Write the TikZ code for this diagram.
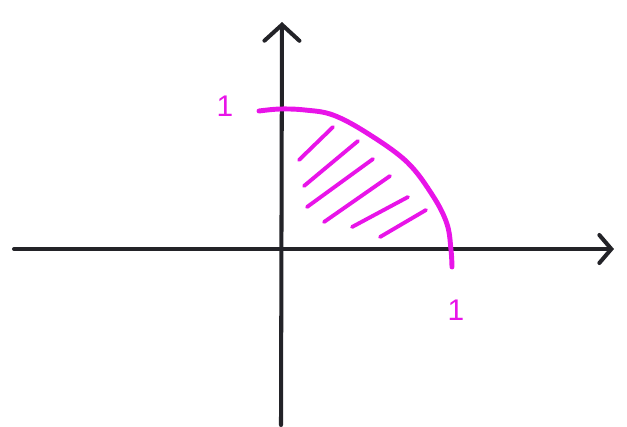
\documentclass[tikz,border=0pt]{standalone}
\usepackage{fontspec}
\setsansfont{Liberation Sans}
\usetikzlibrary{arrows.meta}
\definecolor{axisgray}{RGB}{35,35,40}
\definecolor{pen}{RGB}{232,20,232}
\tikzset{
  axis/.style={draw=axisgray, line width=2.3pt, line cap=round},
  curve/.style={draw=pen, line width=2.8pt, line cap=round, line join=round},
  hatch/.style={draw=pen, line width=2.2pt, line cap=round},
  tick label/.style={text=pen, font=\sffamily\fontsize{17}{17}\selectfont, inner sep=0pt},
}
\begin{document}
\begin{tikzpicture}[x=0.02cm, y=-0.02cm]
  \useasboundingbox (0,0) rectangle (627,427);
  % axes
  \coordinate (xfrom) at (14,249);
  \coordinate (xto) at (614,249);
  \coordinate (yfrom) at (281,425);
  \coordinate (yto) at (282,22);
  \draw[axis, -{Straight Barb[length=2.4mm, width=5.6mm, line cap=round]}] (xfrom) -- (xto);
  \draw[axis, -{Straight Barb[length=3.2mm, width=7mm, line cap=round]}] (yfrom) -- (yto);

  % quarter circle
  \draw[curve] plot[smooth, tension=0.6] coordinates {
    (259,111) (280,109) (305,110) (333,115) (367,133) (407,162)
    (433,196) (447,224) (451,250) (452,267)};

  % shading strokes
  \draw[hatch] (299,160) -- (333,127);
  \draw[hatch] (304,186) -- (358,141);
  \draw[hatch] (307,207) -- (373,159);
  \draw[hatch] (324,222) -- (390,176);
  \draw[hatch] (352,227) -- (408,197);
  \draw[hatch] (380,237) -- (426,210);

  % labels
  \node[tick label] (ylabel) at (225,106) {1};
  \node[tick label] (xlabel) at (456,310) {1};
\end{tikzpicture}
\end{document}
